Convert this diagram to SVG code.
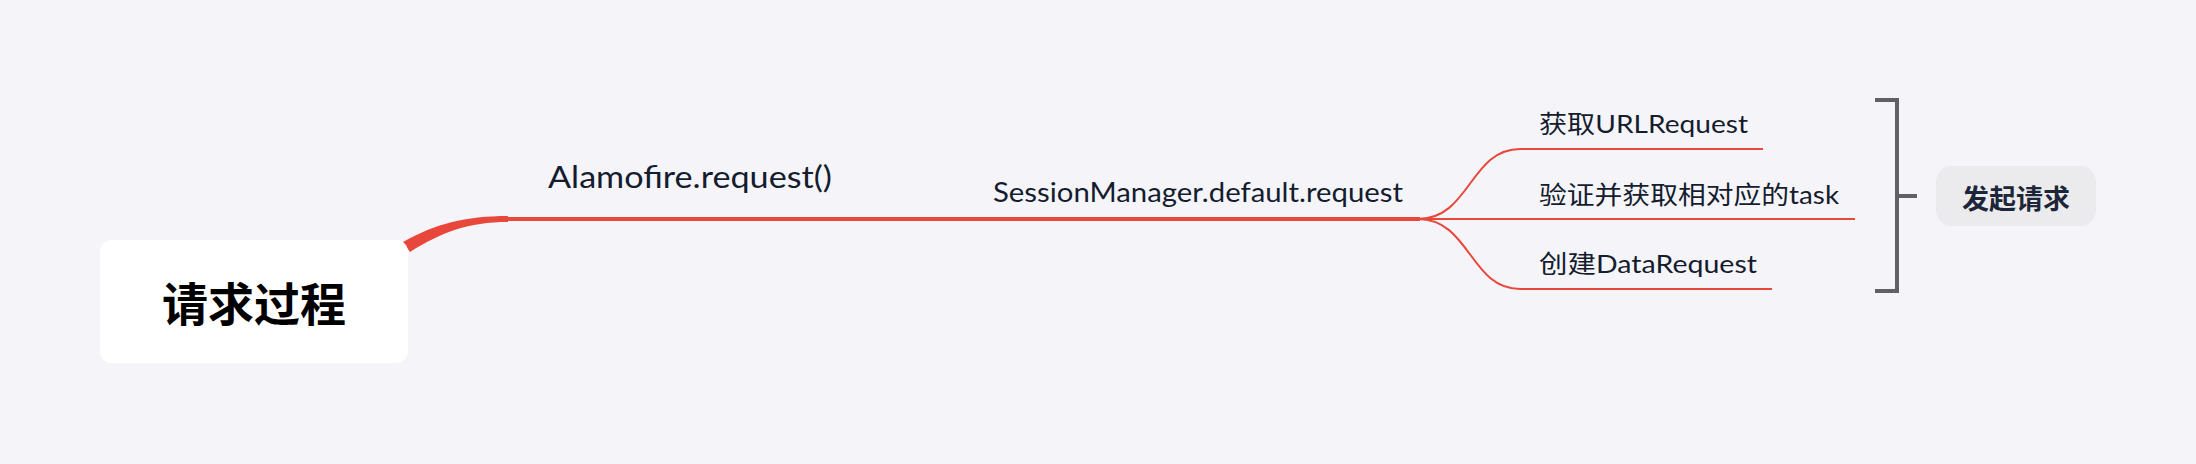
<svg xmlns="http://www.w3.org/2000/svg" width="2196" height="464" viewBox="0 0 2196 464">
<style>
.lbl{font-family:Lato,"Noto Sans","Noto Sans CJK SC",sans-serif;fill:#141c2e}
.cjk{font-family:Lato,"Noto Sans CJK SC",sans-serif;fill:#141c2e}
.br{fill:none;stroke:#e8473b;stroke-width:2}
</style>
<rect width="2196" height="464" fill="#f5f5f9"/>
<g id="connectors">
<path d="M403 242 C435 224 465 216 508 216 L508 222 C468 222 442 232 410 252 Z" fill="#e8473b"/>
<line x1="506" y1="219" x2="1420" y2="219" stroke="#e8473b" stroke-width="4"/>
<path class="br" d="M1418 219 C1470 219 1470 149 1520 149 L1763 149"/>
<path class="br" d="M1418 219 L1855 219"/>
<path class="br" d="M1418 219 C1470 219 1470 289 1520 289 L1772 289"/>
<path d="M1875 100 H1897 V291 H1875 M1897 196 H1917" fill="none" stroke="#606066" stroke-width="4"/>
</g>
<g id="root">
<rect x="100" y="240" width="308" height="123" rx="12" fill="#ffffff"/>
<text x="254" y="301" text-anchor="middle" dominant-baseline="central" font-family="'Noto Sans CJK SC',sans-serif" font-weight="bold" font-size="46" fill="#000">请求过程</text>
</g>
<g id="n-alamofire"><text class="lbl" x="548" y="188" font-size="31" textLength="284" lengthAdjust="spacingAndGlyphs">Alamofire.request()</text></g>
<g id="n-session"><text class="lbl" x="993" y="202" font-size="27" textLength="410" lengthAdjust="spacingAndGlyphs">SessionManager.default.request</text></g>
<g id="n-urlrequest"><text class="cjk" x="1539" y="133" font-size="25" textLength="209" lengthAdjust="spacingAndGlyphs">获取URLRequest</text></g>
<g id="n-task"><text class="cjk" x="1539" y="204" font-size="25" textLength="300" lengthAdjust="spacingAndGlyphs">验证并获取相对应的task</text></g>
<g id="n-datarequest"><text class="cjk" x="1539" y="273" font-size="25" textLength="218" lengthAdjust="spacingAndGlyphs">创建DataRequest</text></g>
<g id="summary">
<rect x="1936" y="166" width="160" height="60" rx="16" fill="#ebebee"/>
<text x="2016" y="197" text-anchor="middle" dominant-baseline="central" font-family="'Noto Sans CJK SC',sans-serif" font-weight="bold" font-size="27" fill="#1d2538">发起请求</text>
</g>
</svg>
